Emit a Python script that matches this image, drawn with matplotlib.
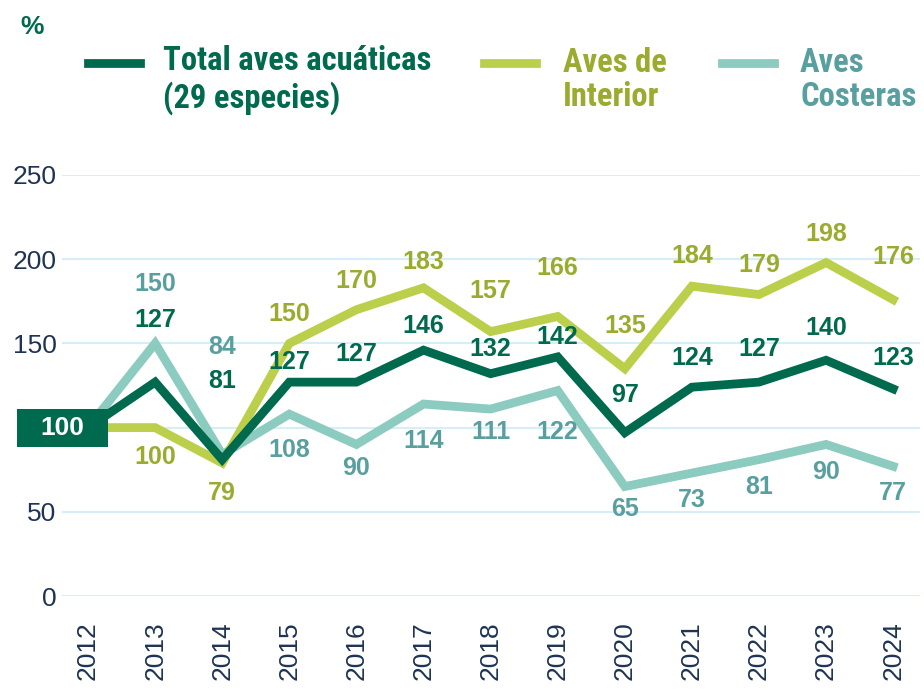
import matplotlib
matplotlib.use("Agg")
import matplotlib.pyplot as plt
from matplotlib import font_manager as fm
from matplotlib.lines import Line2D
from matplotlib.patches import Rectangle
from matplotlib.transforms import ScaledTranslation

years = ["2012", "2013", "2014", "2015", "2016", "2017", "2018",
         "2019", "2020", "2021", "2022", "2023", "2024"]
total = [100, 127, 81, 127, 127, 146, 132, 142, 97, 124, 127, 140, 123]
interior = [100, 100, 79, 150, 170, 183, 157, 166, 135, 184, 179, 198, 176]
costeras = [100, 150, 84, 108, 90, 114, 111, 122, 65, 73, 81, 90, 77]
y_ticks = [0, 50, 100, 150, 200, 250]
y_ticklabels = ["0", "50", "", "150", "200", "250"]  # 100 is hidden under the base-year box

# label offsets in pixels (vertical, negative = up)
off_total = [None, -62, -79, -20, -28, -24, -25, -20, -38, -29, -33, -32, -31]
off_int = [None, 29, 30, -29, -29, -26, -41, -48, -43, -30, -30, -29, -43]
off_cos = [None, -59, -108, 36, 24, 37, 23, 41, 22, 27, 27, 28, 27]

C_TOT = "#006a4e"
C_INT = "#bccf4a"
C_INT_T = "#9aab2f"
C_COS = "#8ccbbf"
C_COS_T = "#5a9fa0"
C_TICK = "#1f3354"
C_GRID = "#d6eef8"

names = {f.name for f in fm.fontManager.ttflist}
base = "Liberation Sans" if "Liberation Sans" in names else "DejaVu Sans"
narrow = None
for cand in ["Liberation Sans Narrow", "Roboto Condensed", "Open Sans Condensed",
             "DejaVu Sans Condensed", "Arial Narrow"]:
    if cand in names:
        narrow = cand
        break
plt.rcParams["font.family"] = [base, "DejaVu Sans"]

W, H = 924, 690
fig = plt.figure(figsize=(W / 100, H / 100), dpi=100)
ax = fig.add_axes([62 / W, 1 - 596 / H, (920 - 62) / W, (596 - 175) / H])
x = list(range(len(years)))
ax.set_xlim(-0.388, 12.40)
ax.set_ylim(0, 250)
ax.set_yticks(y_ticks)
ax.set_yticklabels(y_ticklabels)
ax.set_xticks(x)
ax.set_xticklabels(years, rotation=90, fontsize=19, color=C_TICK)
ax.tick_params(axis="y", labelsize=19, labelcolor=C_TICK, length=0, pad=4)
ax.tick_params(axis="x", length=0, pad=18)
for s in ax.spines.values():
    s.set_visible(False)
ax.grid(axis="y", color=C_GRID, lw=1.5)
ax.set_axisbelow(True)

lw = 6.3
ax.plot(x, costeras, color=C_COS, lw=lw, solid_joinstyle="miter", zorder=2)
ax.plot(x, interior, color=C_INT, lw=lw, solid_joinstyle="miter", zorder=3)
ax.plot(x, total, color=C_TOT, lw=lw, solid_joinstyle="miter", zorder=4)

def labels(vals, offs, color):
    for i, (v, o) in enumerate(zip(vals, offs)):
        if o is None:
            continue
        ax.annotate(str(v), (i, v), xytext=(0, -o * 0.72), textcoords="offset points",
                    ha="center", va="center", fontsize=18, fontweight="bold",
                    color=color, zorder=6)

labels(total, off_total, C_TOT)
labels(interior, off_int, C_INT_T)
labels(costeras, off_cos, C_COS_T)

# base year box (covers the start of the lines)
rect = Rectangle((-0.71, -0.19), 0.91, 0.375, fc=C_TOT, ec="none",
                 clip_on=False, zorder=10)
ax.add_artist(rect)
rect.set_transform(fig.dpi_scale_trans + ScaledTranslation(x[0], total[0], ax.transData))
ax.annotate(str(total[0]), (x[0], total[0]), xytext=(-26 * 0.72, 0), textcoords="offset points",
            ha="center", va="center", fontsize=19, fontweight="bold", color="white",
            zorder=11, annotation_clip=False)

# percent sign
fig.text(20 / W, 1 - 27 / H, "%", fontsize=19, fontweight="bold", color=C_TOT,
         va="center", ha="left")

# legend
leg = [("Total aves acuáticas\n(29 especies)", C_TOT, C_TOT, 88, 163),
       ("Aves de\nInterior", C_INT, C_INT_T, 484, 563),
       ("Aves\nCosteras", C_COS, C_COS_T, 722, 800)]
fam = [narrow, base] if narrow else [base]
lsize = 23.5 if narrow else 20
for txt, lc, tc, lx, tx in leg:
    fig.add_artist(Line2D([lx / W, (lx + 52) / W], [1 - 63 / H, 1 - 63 / H],
                          color=lc, lw=6.3, transform=fig.transFigure))
    fig.text(tx / W, 1 - 80 / H, txt, fontsize=lsize, fontweight="bold", color=tc,
             family=fam, va="center", ha="left", linespacing=1.12)

fig.savefig("out.png", dpi=100)
